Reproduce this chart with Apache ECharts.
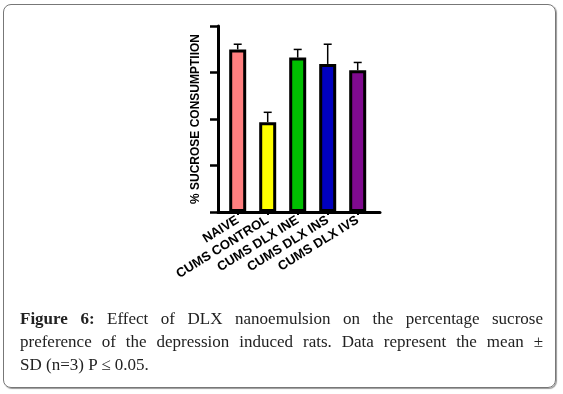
<!DOCTYPE html>
<html>
<head>
<meta charset="utf-8">
<script src="https://cdn.jsdelivr.net/npm/echarts@6/dist/echarts.min.js"></script>
<style>
  html, body { margin: 0; padding: 0; background: #fff; }
  #wrap { position: relative; width: 563px; height: 394px; }
  #frame {
    position: absolute; left: 3px; top: 4px; width: 551px; height: 382px;
    border: 1px solid #777; border-radius: 8px; box-shadow: 1px 1px 1px #999;
  }
  #chart { position: absolute; left: 0; top: 0; width: 563px; height: 394px; }
  #caption {
    position: absolute; left: 20px; top: 307px; width: 523px;
    font-family: "Liberation Serif", serif; font-size: 17px; line-height: 23px; color: #222;
  }
  #caption .ln { text-align: justify; text-align-last: justify; white-space: nowrap; }
  #caption .last { text-align: left; text-align-last: left; }
</style>
</head>
<body>
<div id="wrap">
  <div id="frame"></div>
  <div id="chart"></div>
  <div id="caption">
    <div class="ln"><b>Figure 6:</b> Effect of DLX nanoemulsion on the percentage sucrose</div>
    <div class="ln">preference of the depression induced rats. Data represent the mean ±</div>
    <div class="ln last">SD (n=3) P ≤ 0.05.</div>
  </div>
</div>
<script>
const categories = ['NAIVE', 'CUMS CONTROL', 'CUMS DLX INE', 'CUMS DLX INS', 'CUMS DLX IVS'];
const means = [87.4, 48.3, 83.0, 79.6, 76.2];
const upperSD = [90.2, 53.6, 87.4, 90.2, 80.4];
const barColors = ['#ff7f7f', '#ffff00', '#00c000', '#0000c0', '#7f0a8f'];

const chart = echarts.init(document.getElementById('chart'));

// error bar (upper half only, like the prism plot)
function renderErr(params, api) {
  const x = api.value(0);
  const top = api.coord([x, api.value(2)]);
  const base = api.coord([x, api.value(1)]);
  return {
    type: 'group',
    children: [
      {type: 'line', shape: {x1: top[0], y1: base[1], x2: top[0], y2: top[1]}, style: {stroke: '#000', lineWidth: 1.5}},
      {type: 'line', shape: {x1: top[0] - 4, y1: top[1], x2: top[0] + 4, y2: top[1]}, style: {stroke: '#000', lineWidth: 1.5}}
    ]
  };
}

const option = {
  animation: false,
  grid: [
    {left: 218, right: 183, top: 26, bottom: 182},
    {left: 222.7, width: 150, top: 26, bottom: 182}
  ],
  xAxis: [
    {
      gridIndex: 0, type: 'value', min: 0, max: 1,
      axisLine: {show: true, onZero: false, lineStyle: {color: '#000', width: 3}},
      axisTick: {show: false}, axisLabel: {show: false}, splitLine: {show: false}
    },
    {
      gridIndex: 1, type: 'category', data: categories,
      axisLine: {show: false},
      axisTick: {show: true, alignWithLabel: true, length: 3, lineStyle: {color: '#000', width: 2}},
      axisLabel: {
        interval: 0, rotate: 32, margin: 7,
        fontFamily: 'Liberation Sans, Arial, sans-serif', fontWeight: 'bold', fontSize: 13, color: '#000'
      }
    }
  ],
  yAxis: [
    {
      gridIndex: 0, type: 'value', min: 0, max: 100, interval: 25,
      name: '% SUCROSE CONSUMPTIION', nameLocation: 'middle', nameGap: 16,
      nameTextStyle: {fontFamily: 'Liberation Sans, Arial, sans-serif', fontWeight: 'bold', fontSize: 12, color: '#000'},
      axisLine: {show: true, lineStyle: {color: '#000', width: 3}},
      axisTick: {show: true, length: 8, lineStyle: {color: '#000', width: 2.5}},
      axisLabel: {show: false}, splitLine: {show: false}
    },
    {
      gridIndex: 1, type: 'value', min: 0, max: 100, interval: 25, show: false
    }
  ],
  series: [
    {
      type: 'bar', xAxisIndex: 1, yAxisIndex: 1, barWidth: 17,
      data: means.map((v, i) => ({value: v, itemStyle: {color: barColors[i]}})),
      itemStyle: {borderColor: '#000', borderWidth: 3},
      z: 2
    },
    {
      type: 'custom', xAxisIndex: 1, yAxisIndex: 1,
      renderItem: renderErr,
      data: means.map((v, i) => [i, v, upperSD[i]]),
      z: 3
    }
  ]
};
chart.setOption(option);
</script>
</body>
</html>
